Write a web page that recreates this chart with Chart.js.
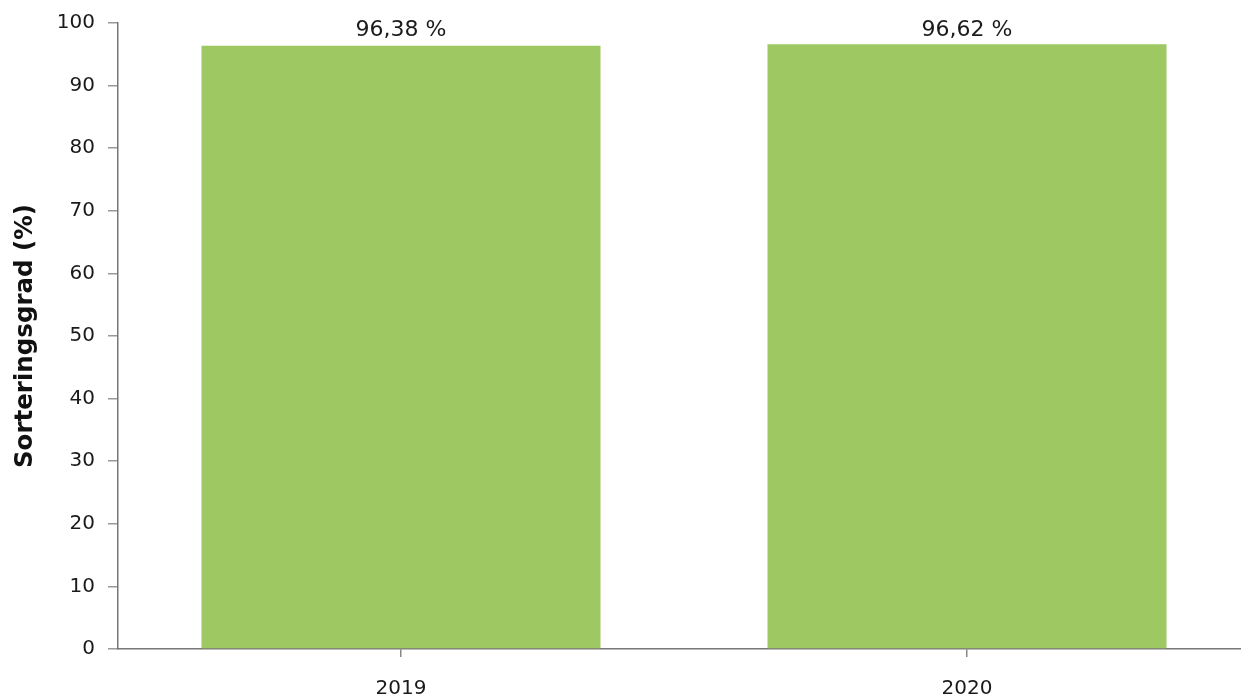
<!DOCTYPE html>
<html><head><meta charset="utf-8">
<script src="https://cdn.jsdelivr.net/npm/chart.js@4/dist/chart.umd.min.js"></script>
<style>html,body{margin:0;padding:0;background:#fff;overflow:hidden}#wrap{width:1250px;height:700px}</style>
</head><body><div id="wrap"><canvas id="c" width="1250" height="700"></canvas></div>
<script>
const categories = ["2019", "2020"];
const values = [96.38, 96.62];
const valueLabels = ["96,38 %", "96,62 %"];
const yTicks = [0, 10, 20, 30, 40, 50, 60, 70, 80, 90, 100];
const yTitle = "Sorteringsgrad (%)";

const labelPlugin = {
  id: 'valLabels',
  afterDatasetsDraw(chart) {
    const ctx = chart.ctx;
    const meta = chart.getDatasetMeta(0);
    ctx.save();
    ctx.font = '22px "DejaVu Sans"';
    ctx.fillStyle = '#1a1a1a';
    ctx.textAlign = 'center';
    ctx.textBaseline = 'middle';
    meta.data.forEach((bar, i) => {
      ctx.fillText(valueLabels[i], bar.x, chart.scales.y.getPixelForValue(100) + 7);
    });
    ctx.restore();
  }
};

new Chart(document.getElementById('c'), {
  type: 'bar',
  data: { labels: categories, datasets: [{ data: values, backgroundColor: '#9dc862', borderWidth: 0, barPercentage: 0.705, categoryPercentage: 1 }] },
  options: {
    responsive: false, animation: false,
    layout: { padding: { top: 23, right: 0, left: 0, bottom: 0 } },
    plugins: { legend: { display: false }, tooltip: { enabled: false } },
    scales: {
      x: {
        grid: { display: true, drawOnChartArea: false, offset: false, tickLength: 8, color: '#888', lineWidth: 1.5 },
        border: { display: true, color: '#777', width: 1.5 },
        ticks: { color: '#1a1a1a', font: { family: 'DejaVu Sans', size: 20 }, padding: 20 },
        afterFit(s) { s.height = 51; }
      },
      y: {
        min: 0, max: 100,
        afterBuildTicks(s) { s.ticks = yTicks.map(v => ({ value: v })); },
        grid: { display: true, drawOnChartArea: false, tickLength: 10, color: '#999', lineWidth: 1.5 },
        border: { display: true, color: '#777', width: 1.5 },
        ticks: { color: '#1a1a1a', font: { family: 'DejaVu Sans', size: 20, lineHeight: 1 }, padding: 13 },
        title: { display: true, text: yTitle, color: '#111', font: { family: 'DejaVu Sans', size: 24.5, weight: 'bold' }, padding: { top: 11, bottom: 8 } },
        afterFit(s) { s.width = 118; s.paddingTop = 0; s.paddingBottom = 0; }
      }
    }
  },
  plugins: [labelPlugin]
});
</script></body></html>
